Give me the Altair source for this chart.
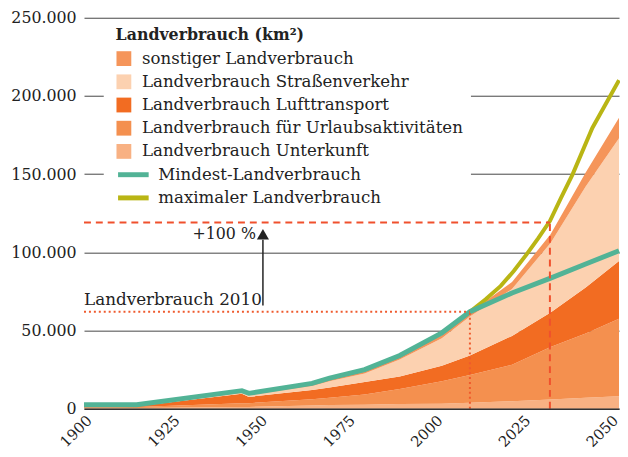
import altair as alt
import pandas as pd

FONT = "DejaVu Serif"
TXT = "#222222"

# ---- data (values in km²) ----
years = [1900, 1915, 1945, 1947, 1965, 1970, 1980, 1990, 2002, 2010, 2022, 2033, 2043, 2052.5]
unterkunft = [300, 400, 1000, 1100, 2000, 2300, 2500, 3000, 3200, 3800, 4800, 5900, 7000, 8000]
urlaub = [500, 600, 2500, 2400, 4000, 4700, 6500, 9500, 14300, 17700, 23200, 33600, 41000, 49500]
luft = [500, 500, 6000, 4000, 6000, 6500, 8000, 8000, 10000, 12500, 18500, 22000, 29500, 37000]
strasse = [200, 200, 500, 1000, 2500, 4000, 5500, 11000, 17500, 25000, 30000, 44500, 64500, 78500]
sonstiger = [500, 500, 800, 800, 1100, 1500, 2000, 2000, 2000, 2500, 4500, 5500, 9000, 13000]

mindest = [2500, 2500, 11500, 9800, 16200, 19500, 25000, 34000, 48500, 62000, 74000, 83500, 92500, 101000]
max_years = [2010, 2014.5, 2018.8, 2022.5, 2026.1, 2029.5, 2032.8, 2036, 2039.3, 2044.9, 2052.5]
maximal = [62000, 70000, 78500, 88000, 98500, 109000, 120000, 135000, 150000, 179500, 210000]

area_names = ["sonstiger Landverbrauch", "Landverbrauch Straßenverkehr",
              "Landverbrauch Lufttransport", "Landverbrauch für Urlaubsaktivitäten",
              "Landverbrauch Unterkunft"]
area_colors = ["#F5955A", "#FCD1B0", "#F26C22", "#F4904F", "#F8B183"]
line_names = ["Mindest-Landverbrauch", "maximaler Landverbrauch"]
line_colors = ["#52B396", "#B9B514"]

x_ticks = [1900, 1925, 1950, 1975, 2000, 2025, 2050]
y_ticks = [0, 50000, 100000, 150000, 200000, 250000]

level_2010 = 62000
level_double = 119000
year_2010 = 2010
year_double = 2032.8
arrow_year = 1951
arrow_from, arrow_to, arrow_head = 66000, 108000, 111500

# ---- tables ----
series = [unterkunft, urlaub, luft, strasse, sonstiger]
stack_names = area_names[::-1]  # bottom to top
rows = []
for k, (name, vals) in enumerate(zip(stack_names, series)):
    for y, v in zip(years, vals):
        rows.append({"jahr": y, "kat": name, "wert": v, "ord": k})
areas_df = pd.DataFrame(rows)

lines_min = pd.DataFrame({"jahr": years, "wert": mindest, "serie": line_names[0]})
lines_max = pd.DataFrame({"jahr": max_years, "wert": maximal, "serie": line_names[1]})

x_scale = alt.Scale(domain=[1900, 2052.5], nice=False, zero=False)
y_scale = alt.Scale(domain=[0, 250000], nice=False)

x_axis = alt.Axis(values=x_ticks, format="d", labelAngle=-45, labelAlign="right",
                  labelBaseline="top", grid=False, ticks=False,
                  domain=True, domainColor="#333333", domainWidth=1.5,
                  labelFont=FONT, labelFontSize=15, labelColor=TXT, labelPadding=4,
                  labelOverlap=False, labelBound=False, labelFlush=False,
                  title=None, zindex=1)
y_axis = alt.Axis(values=y_ticks, grid=True, gridColor="#444444", gridWidth=1,
                  ticks=False, domain=False,
                  labelExpr="replace(format(datum.value, ',d'), ',', '.')",
                  labelFont=FONT, labelFontSize=16, labelColor=TXT, labelPadding=8,
                  title=None)

X = lambda f="jahr": alt.X(f"{f}:Q", scale=x_scale, axis=x_axis)
Y = lambda f="wert": alt.Y(f"{f}:Q", scale=y_scale, axis=y_axis)

fill_legend = alt.Legend(title="Landverbrauch (km²)", orient="none", legendX=32, legendY=10,
                         symbolType="square", symbolSize=225, symbolStrokeWidth=0,
                         labelFont=FONT, labelFontSize=16.8, labelColor=TXT,
                         titleFont=FONT, titleFontSize=16, titleFontWeight="bold",
                         titleColor=TXT, titleLimit=500, rowPadding=5.5, titlePadding=7,
                         labelOffset=10, padding=0, labelLimit=500)
stroke_legend = alt.Legend(title=None, orient="none", legendX=37, legendY=146,
                           symbolType="M-1.5,0H1.5", symbolSize=427, symbolStrokeWidth=5,
                           symbolFillColor="transparent",
                           labelFont=FONT, labelFontSize=16.8, labelColor=TXT,
                           rowPadding=0.5, labelOffset=12.3, padding=0, labelLimit=500)
stroke_scale = alt.Scale(domain=line_names, range=line_colors)

bg = alt.Chart(pd.DataFrame({"a": [0]})).mark_rect(color="white").encode(
    x=alt.value(20), x2=alt.value(392), y=alt.value(7), y2=alt.value(192))

areas = alt.Chart(areas_df).mark_area(opacity=1, interpolate="linear").encode(
    x=X(), y=alt.Y("wert:Q", scale=y_scale, axis=y_axis, stack="zero"),
    fill=alt.Fill("kat:N", scale=alt.Scale(domain=area_names, range=area_colors),
                  legend=fill_legend),
    order=alt.Order("ord:Q", sort="ascending"))

line_max = alt.Chart(lines_max).mark_line(strokeWidth=4).encode(
    x=X(), y=Y(), stroke=alt.Stroke("serie:N", scale=stroke_scale, legend=stroke_legend))
line_min = alt.Chart(lines_min).mark_line(strokeWidth=5).encode(
    x=X(), y=Y(), stroke=alt.Stroke("serie:N", scale=stroke_scale, legend=stroke_legend))

h_df = pd.DataFrame({"x1": [1900, 1900], "x2": [year_2010, year_double],
                     "y": [level_2010, level_double], "typ": ["dot", "dash"]})
v_df = pd.DataFrame({"x": [year_2010, year_double], "y1": [0, 0],
                     "y2": [level_2010, level_double], "typ": ["dot", "dash"]})

dot_h = alt.Chart(h_df[h_df.typ == "dot"]).mark_rule(color="#EF5A2D", strokeWidth=2, strokeDash=[2, 3]).encode(
    x=X("x1"), x2="x2:Q", y=Y("y"))
dash_h = alt.Chart(h_df[h_df.typ == "dash"]).mark_rule(color="#F0502D", strokeWidth=2, strokeDash=[7, 5]).encode(
    x=X("x1"), x2="x2:Q", y=Y("y"))
dot_v = alt.Chart(v_df[v_df.typ == "dot"]).mark_rule(color="#EF5A2D", strokeWidth=2, strokeDash=[2, 3]).encode(
    x=X("x"), y=Y("y1"), y2="y2:Q")
dash_v = alt.Chart(v_df[v_df.typ == "dash"]).mark_rule(color="#F0502D", strokeWidth=2, strokeDash=[7, 5]).encode(
    x=X("x"), y=Y("y1"), y2="y2:Q")

arrow_df = pd.DataFrame({"x": [arrow_year], "y1": [arrow_from], "y2": [arrow_to], "yh": [arrow_head]})
arrow_line = alt.Chart(arrow_df).mark_rule(color=TXT, strokeWidth=1.5).encode(
    x=X("x"), y=Y("y1"), y2="y2:Q")
arrow_head_mark = alt.Chart(arrow_df).mark_point(shape="triangle-up", filled=True, size=150,
                                                 color=TXT, opacity=1).encode(x=X("x"), y=Y("yh"))

txt_df = pd.DataFrame({"x": [1900, 1949], "y": [66300, 108600],
                       "t": ["Landverbrauch 2010", "+100 %"]})
txt_left = alt.Chart(txt_df.iloc[[0]]).mark_text(font=FONT, fontSize=17, color=TXT, align="left",
                                                  baseline="alphabetic").encode(x=X("x"), y=Y("y"), text="t:N")
txt_right = alt.Chart(txt_df.iloc[[1]]).mark_text(font=FONT, fontSize=16, color=TXT, align="right",
                                                   baseline="alphabetic").encode(x=X("x"), y=Y("y"), text="t:N")

chart = alt.layer(bg, areas, line_max, line_min, dot_h, dot_v, dash_h, dash_v,
                  arrow_line, arrow_head_mark, txt_left, txt_right).properties(
    width=542, height=396,
    autosize=alt.AutoSizeParams(type="none"),
    padding={"left": 77, "top": 7, "right": 1, "bottom": 38},
).configure_view(stroke=None)

chart.save("out.html", embed_options={"renderer": "svg", "actions": False})
